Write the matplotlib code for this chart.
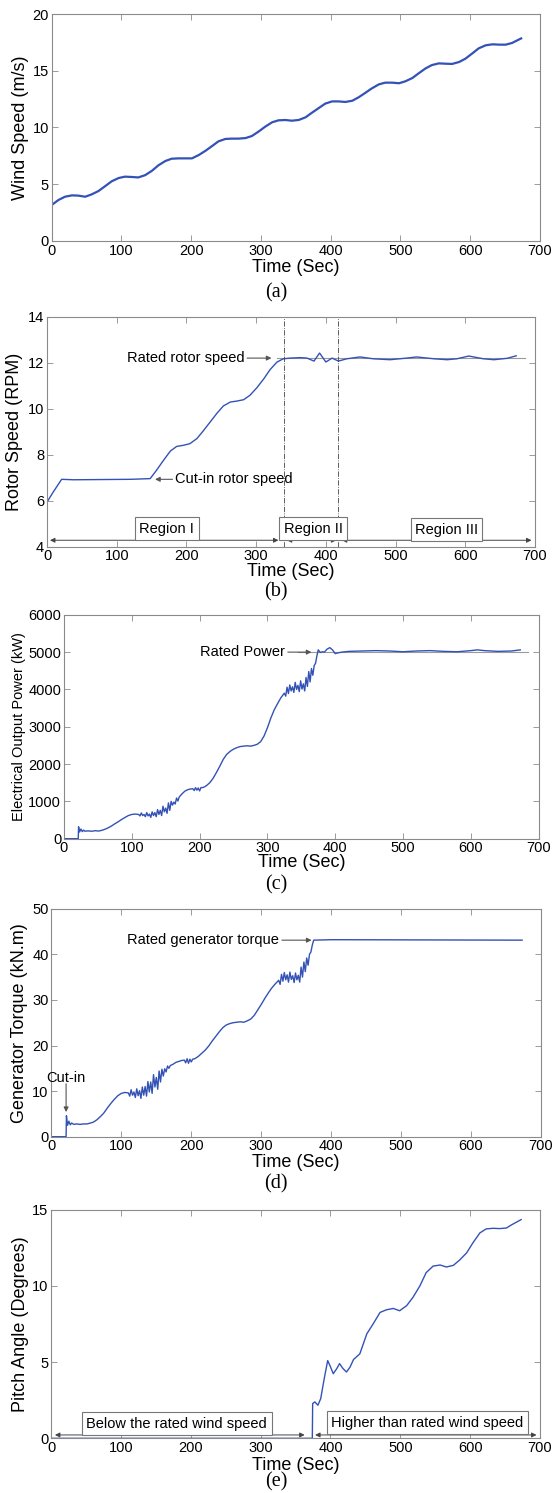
import matplotlib
matplotlib.use("Agg")
import matplotlib.pyplot as plt

plt.rcParams['font.family'] = ['Liberation Sans', 'DejaVu Sans']

# ---------------- data ----------------
# (a) wind speed
t_wind = [0, 9.6, 19, 29, 38, 48, 57, 67, 77, 86, 96, 105, 115, 124, 134, 144, 153, 163, 172, 182,
          191, 201, 211, 220, 230, 239, 249, 258, 268, 278, 287, 297, 306, 316, 325, 335, 344, 354,
          364, 373, 383, 392, 402, 411, 421, 431, 440, 450, 459, 469, 478, 488, 498, 507, 517, 526,
          536, 545, 555, 565, 574, 584, 593, 603, 612, 622, 632, 641, 651, 660, 673]
wind = [3.17, 3.61, 3.9, 4.02, 4.0, 3.9, 4.1, 4.4, 4.85, 5.26, 5.55, 5.67, 5.64, 5.6, 5.8, 6.2, 6.67,
        7.05, 7.25, 7.28, 7.28, 7.28, 7.58, 7.93, 8.37, 8.78, 8.99, 9.02, 9.02, 9.07, 9.25, 9.66, 10.07,
        10.46, 10.63, 10.66, 10.6, 10.66, 10.9, 11.3, 11.72, 12.1, 12.3, 12.3, 12.25, 12.36, 12.66,
        13.07, 13.45, 13.8, 13.95, 13.95, 13.9, 14.07, 14.36, 14.77, 15.21, 15.5, 15.65, 15.62, 15.6,
        15.77, 16.06, 16.53, 16.97, 17.24, 17.33, 17.3, 17.3, 17.45, 17.85]

# (b) rotor speed
t_rotor = [0, 9, 21, 38, 80, 120, 148, 157, 167, 177, 186, 196, 205, 215, 224, 234, 244, 253, 263, 272,
           282, 291, 301, 311, 320, 330, 339, 349, 363, 373, 383, 391, 400, 409, 418, 430, 449, 468,
           492, 516, 530, 555, 574, 588, 605, 626, 641, 660, 673]
rotor = [5.94, 6.38, 6.93, 6.91, 6.92, 6.93, 6.96, 7.32, 7.75, 8.16, 8.36, 8.41, 8.48, 8.7, 9.03, 9.42,
         9.81, 10.12, 10.29, 10.33, 10.39, 10.58, 10.91, 11.3, 11.7, 12.03, 12.17, 12.2, 12.22, 12.2,
         12.07, 12.42, 12.03, 12.2, 12.07, 12.17, 12.25, 12.17, 12.13, 12.2, 12.25, 12.17, 12.13,
         12.17, 12.29, 12.17, 12.13, 12.19, 12.3]

# (c) electrical output power (kW)
t_power = [0, 21, 21.5, 23, 25, 27, 29, 31, 35, 41, 46, 51, 56, 60, 65, 70, 75, 80, 85, 90, 95, 100,
           105, 110, 112, 114, 116, 118, 120, 122, 124, 126, 128, 130, 132, 134, 136, 138, 140, 142,
           144, 146, 148, 150, 152, 154, 156, 158, 160, 162, 164, 166, 168, 170, 174, 178, 182, 186,
           190, 192, 194, 196, 198, 200, 202, 205, 210, 215, 220, 225, 230, 235, 240, 245, 250, 255,
           260, 265, 270, 275, 280, 285, 290, 295, 300, 305, 310, 315, 320, 325, 327, 329, 331, 333,
           335, 337, 339, 341, 343, 345, 347, 349, 351, 353, 355, 357, 359, 361, 363, 365, 367, 369,
           371, 373, 375, 378, 381, 384, 388, 392, 396, 400, 404, 410, 420, 440, 460, 480, 500, 520,
           540, 560, 580, 600, 610, 620, 640, 660, 673]
power = [0, 0, 320, 180, 260, 190, 230, 200, 210, 200, 215, 205, 225, 250, 290, 340, 400, 455, 515, 570,
         620, 650, 660, 650, 610, 690, 620, 650, 590, 700, 610, 660, 570, 720, 620, 700, 590, 780, 650,
         760, 620, 870, 720, 820, 680, 960, 760, 1000, 900, 980, 930, 1090, 1010, 1120, 1200, 1270,
         1310, 1330, 1340, 1290, 1370, 1300, 1360, 1280, 1370, 1370, 1420, 1500, 1620, 1780, 1950,
         2130, 2260, 2340, 2400, 2440, 2470, 2480, 2490, 2480, 2500, 2530, 2600, 2750, 2970, 3230,
         3450, 3620, 3780, 3900, 3820, 4060, 3890, 4120, 3960, 4070, 3920, 4190, 4000, 4110, 3940,
         4230, 4010, 4150, 3960, 4320, 4080, 4480, 4200, 4560, 4380, 4640, 4700, 4900, 5060, 4990,
         5010, 5000, 5080, 5120, 5060, 4960, 4980, 5000, 5020, 5030, 5040, 5030, 5010, 5030, 5040,
         5020, 5010, 5040, 5060, 5040, 5020, 5030, 5060]

# (d) generator torque (kN.m)
t_torque = [0, 21, 21.5, 23, 25, 27, 29, 32, 36, 41, 46, 51, 56, 60, 65, 70, 75, 80, 85, 90, 95, 100,
            105, 110, 112, 114, 116, 118, 120, 122, 124, 126, 128, 130, 132, 134, 136, 138, 140, 142,
            144, 146, 148, 150, 152, 154, 156, 158, 160, 162, 164, 166, 168, 170, 174, 178, 182, 186,
            190, 192, 194, 196, 198, 200, 202, 205, 210, 215, 220, 225, 230, 235, 240, 245, 250, 255,
            260, 265, 270, 275, 280, 285, 290, 295, 300, 305, 310, 315, 320, 325, 327, 329, 331, 333,
            335, 337, 339, 341, 343, 345, 347, 349, 351, 353, 355, 357, 359, 361, 363, 365, 367, 369,
            371, 373, 375, 400, 410, 673]
torque = [0, 0, 4.6, 2.5, 3.4, 2.6, 3.0, 2.7, 2.8, 2.7, 2.8, 2.8, 3.0, 3.2, 3.7, 4.4, 5.2, 6.3, 7.3,
          8.2, 9.0, 9.5, 9.7, 9.6, 8.9, 10.3, 9.1, 9.8, 8.6, 10.5, 9.0, 10.1, 8.4, 10.9, 9.1, 11.0,
          8.9, 12.1, 9.8, 12.0, 9.5, 13.6, 10.9, 13.0, 10.4, 14.4, 12.0, 14.8, 13.3, 14.9, 14.2, 15.5,
          15.0, 15.6, 15.9, 16.3, 16.5, 16.7, 16.8, 16.2, 17.1, 16.1, 17.0, 16.4, 17.0, 17.1, 17.6,
          18.3, 19.0, 19.9, 21.0, 22.0, 23.0, 23.9, 24.5, 24.8, 25.0, 25.1, 25.2, 25.1, 25.4, 25.8,
          26.6, 27.8, 29.0, 30.3, 31.5, 32.6, 33.5, 34.3, 33.4, 35.6, 34.1, 36.0, 34.4, 35.5, 33.9,
          36.1, 34.5, 35.3, 33.8, 35.9, 34.4, 35.4, 33.9, 37.2, 35.0, 38.3, 36.2, 39.2, 37.6, 40.0,
          40.5, 42.0, 43.1, 43.2, 43.2, 43.1]

# (e) pitch angle (degrees)
t_pitch = [0, 374, 374.5, 377.6, 382, 386, 391, 396, 399, 404, 409, 413, 418, 423, 428, 433, 442, 452,
           461, 471, 480, 490, 499, 509, 518, 528, 537, 547, 557, 566, 576, 585, 595, 604, 614, 623,
           633, 642, 652, 659, 673]
pitch = [0, 0, 2.28, 2.39, 2.17, 2.6, 3.9, 5.1, 4.8, 4.24, 4.57, 4.9, 4.57, 4.35, 4.67, 5.17, 5.54, 6.85,
         7.5, 8.26, 8.43, 8.52, 8.37, 8.7, 9.24, 10.0, 10.87, 11.3, 11.37, 11.24, 11.35, 11.7, 12.17,
         12.83, 13.48, 13.74, 13.78, 13.76, 13.8, 14.0, 14.35]

x_ticks = [0, 100, 200, 300, 400, 500, 600, 700]
rated_rotor = 12.2
rated_power = 5000
rated_torque = 43.1
region_bounds = [340, 418]

# ---------------- figure ----------------
W, H = 554, 1493
fig = plt.figure(figsize=(W / 100, H / 100), dpi=100)

BLUE = '#3352b5'
SPINE = '#8a8a8a'


def px_axes(left, right, top, bottom):
    return fig.add_axes([left / W, 1 - bottom / H, (right - left) / W, (bottom - top) / H])


def style(ax, ylim, yticks, ylabel, ylab_x, xlab_y, ylab_size=13):
    ax.set_xlim(0, 700)
    ax.set_ylim(*ylim)
    ax.set_xticks(x_ticks)
    ax.set_yticks(yticks)
    ax.tick_params(direction='in', top=True, right=True, length=4, width=0.6,
                   color=SPINE, labelcolor='black', labelsize=10.5, pad=2)
    for s in ax.spines.values():
        s.set_color(SPINE)
        s.set_linewidth(0.8)
    ax.set_xlabel('Time (Sec)', fontsize=13)
    ax.set_ylabel(ylabel, fontsize=ylab_size)
    ax.xaxis.label.set_va('center')
    ax.yaxis.label.set_va('center')
    ax.xaxis.set_label_coords(0.5, xlab_y)
    ax.yaxis.set_label_coords(ylab_x, 0.5)


arrow_kw = dict(arrowstyle='-|>', color='#555555', lw=0.8, mutation_scale=7, shrinkA=0, shrinkB=0)
darrow_kw = dict(arrowstyle='<|-|>', color='#444444', lw=0.7, mutation_scale=7, shrinkA=0, shrinkB=0)
box_kw = dict(boxstyle='square,pad=0.3', fc='white', ec='#777777', lw=0.8)

# (a)
ax = px_axes(51.7, 540, 14, 241)
ax.plot(t_wind, wind, color=BLUE, lw=1.6)
style(ax, (0, 20), [0, 5, 10, 15, 20], 'Wind Speed (m/s)', -0.063, -0.115)

# (b)
ax = px_axes(47, 535, 316.7, 546.7)
ax.plot([330, 685], [rated_rotor, rated_rotor], color='#999999', lw=0.8)
ax.plot(t_rotor, rotor, color=BLUE, lw=1.0)
for xb in region_bounds:
    ax.axvline(xb, color='#444444', lw=0.6, ls='-.')
style(ax, (4, 14), [4, 6, 8, 10, 12, 14], 'Rotor Speed (RPM)', -0.066, -0.110)
ax.annotate('Rated rotor speed', xy=(322, rated_rotor), xytext=(283, rated_rotor), fontsize=10.5,
            ha='right', va='center', arrowprops=arrow_kw)
ax.annotate('Cut-in rotor speed', xy=(155, 6.93), xytext=(184, 6.93), fontsize=10.5,
            ha='left', va='center', arrowprops=arrow_kw)
for (x0, x1) in [(4.3, 332), (344, 415), (423, 695)]:
    ax.annotate('', xy=(x1, 4.28), xytext=(x0, 4.28), arrowprops=darrow_kw)
for (tx, ty, s) in [(172, 4.78, 'Region I'), (382, 4.78, 'Region II'), (573, 4.74, 'Region III')]:
    ax.text(tx, ty, s, fontsize=10.5, ha='center', va='center', bbox=box_kw)

# (c)
ax = px_axes(64, 538.6, 614.8, 838.7)
ax.plot([345, 685], [rated_power, rated_power], color='#999999', lw=0.8)
ax.plot(t_power, power, color=BLUE, lw=1.0)
style(ax, (0, 6000), [0, 1000, 2000, 3000, 4000, 5000, 6000], 'Electrical Output Power (kW)',
      -0.094, -0.108, ylab_size=10.5)
ax.annotate('Rated Power', xy=(365, rated_power), xytext=(326, rated_power), fontsize=10.5,
            ha='right', va='center', arrowprops=arrow_kw)

# (d)
ax = px_axes(51.4, 541, 908.7, 1136.7)
ax.plot(t_torque, torque, color=BLUE, lw=1.0)
style(ax, (0, 50), [0, 10, 20, 30, 40, 50], 'Generator Torque (kN.m)', -0.065, -0.115)
ax.annotate('Rated generator torque', xy=(372, rated_torque), xytext=(325.6, rated_torque),
            fontsize=10.5, ha='right', va='center', arrowprops=arrow_kw)
ax.text(21, 12.8, 'Cut-in', fontsize=10.5, ha='center', va='center')
ax.annotate('', xy=(21, 5.4), xytext=(21, 11.6), arrowprops=arrow_kw)

# (e)
ax = px_axes(51.1, 540, 1209.7, 1438.3)
ax.plot(t_pitch, pitch, color=BLUE, lw=1.0)
style(ax, (0, 15), [0, 5, 10, 15], 'Pitch Angle (Degrees)', -0.062, -0.117)
ax.annotate('', xy=(363, 0.22), xytext=(5.5, 0.22), arrowprops=darrow_kw)
ax.annotate('', xy=(695, 0.22), xytext=(378, 0.22), arrowprops=darrow_kw)
ax.text(180, 0.96, 'Below the rated wind speed', fontsize=10.5, ha='center', va='center', bbox=box_kw)
ax.text(539, 1.02, 'Higher than rated wind speed', fontsize=10.5, ha='center', va='center', bbox=box_kw)

# captions
for lab, yp in [('(a)', 293), ('(b)', 592), ('(c)', 885), ('(d)', 1184), ('(e)', 1482)]:
    fig.text(276 / W, 1 - yp / H, lab, fontsize=14.5, family='Liberation Serif',
             ha='center', va='center')

fig.savefig('out.png', dpi=100)
